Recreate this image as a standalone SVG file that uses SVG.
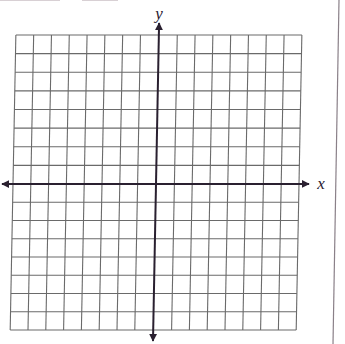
<svg xmlns="http://www.w3.org/2000/svg" width="345" height="344" viewBox="0 0 345 344">
<style>
.grid line{stroke:#6a6a6a;stroke-width:1.1}
.axis{stroke:#2a2030;stroke-width:2;fill:none}
.lbl{font-family:"Liberation Serif",serif;font-style:italic;font-size:17px;fill:#2a2030}
</style>
<defs>
<marker id="ah" viewBox="0 0 10 10" refX="9" refY="5" markerWidth="4" markerHeight="4" orient="auto" markerUnits="strokeWidth">
<path d="M0,0 L10,5 L0,10 z" fill="#2a2030"/>
</marker>
</defs>
<rect width="345" height="344" fill="#fff"/>
<g id="scan-edge">
<line x1="0" y1="0.5" x2="60" y2="0.5" stroke="#d8d0d4" stroke-width="1"/>
<line x1="82" y1="0.5" x2="118" y2="0.5" stroke="#d8d0d4" stroke-width="1"/>
<line x1="339" y1="0" x2="333" y2="344" stroke="#8a8088" stroke-width="1.2"/>
</g>
<g transform="translate(156,184) skewX(-1.1) translate(-156,-184)">
<g id="grid" class="grid">
<line x1="13" y1="35" x2="13" y2="330"/>
<line x1="30.8" y1="35" x2="30.8" y2="330"/>
<line x1="48.6" y1="35" x2="48.6" y2="330"/>
<line x1="66.4" y1="35" x2="66.4" y2="330"/>
<line x1="84.2" y1="35" x2="84.2" y2="330"/>
<line x1="102" y1="35" x2="102" y2="330"/>
<line x1="119.8" y1="35" x2="119.8" y2="330"/>
<line x1="137.6" y1="35" x2="137.6" y2="330"/>
<line x1="174.4" y1="35" x2="174.4" y2="330"/>
<line x1="192.2" y1="35" x2="192.2" y2="330"/>
<line x1="210" y1="35" x2="210" y2="330"/>
<line x1="227.8" y1="35" x2="227.8" y2="330"/>
<line x1="245.6" y1="35" x2="245.6" y2="330"/>
<line x1="263.4" y1="35" x2="263.4" y2="330"/>
<line x1="281.2" y1="35" x2="281.2" y2="330"/>
<line x1="299" y1="35" x2="299" y2="330"/>
<line x1="13" y1="35" x2="299" y2="35"/>
<line x1="13" y1="53.6" x2="299" y2="53.6"/>
<line x1="13" y1="72.2" x2="299" y2="72.2"/>
<line x1="13" y1="90.9" x2="299" y2="90.9"/>
<line x1="13" y1="109.5" x2="299" y2="109.5"/>
<line x1="13" y1="128.1" x2="299" y2="128.1"/>
<line x1="13" y1="146.8" x2="299" y2="146.8"/>
<line x1="13" y1="165.4" x2="299" y2="165.4"/>
<line x1="13" y1="202.25" x2="299" y2="202.25"/>
<line x1="13" y1="220.5" x2="299" y2="220.5"/>
<line x1="13" y1="238.75" x2="299" y2="238.75"/>
<line x1="13" y1="257" x2="299" y2="257"/>
<line x1="13" y1="275.25" x2="299" y2="275.25"/>
<line x1="13" y1="293.5" x2="299" y2="293.5"/>
<line x1="13" y1="311.75" x2="299" y2="311.75"/>
<line x1="13" y1="330" x2="299" y2="330"/>
</g>
<g id="connectors">
<line id="x-axis" class="axis" x1="156" y1="184" x2="309" y2="184" marker-end="url(#ah)"/>
<line id="x-axis-neg" class="axis" x1="156" y1="184" x2="2" y2="184" marker-end="url(#ah)"/>
<line id="y-axis" class="axis" x1="156" y1="184" x2="156" y2="23" marker-end="url(#ah)"/>
<line id="y-axis-neg" class="axis" x1="156" y1="184" x2="156" y2="341" marker-end="url(#ah)"/>
</g>
</g>
<g id="label-y"><text class="lbl" x="159" y="19" text-anchor="middle">y</text></g>
<g id="label-x"><text class="lbl" x="321" y="189" text-anchor="middle">x</text></g>
</svg>
